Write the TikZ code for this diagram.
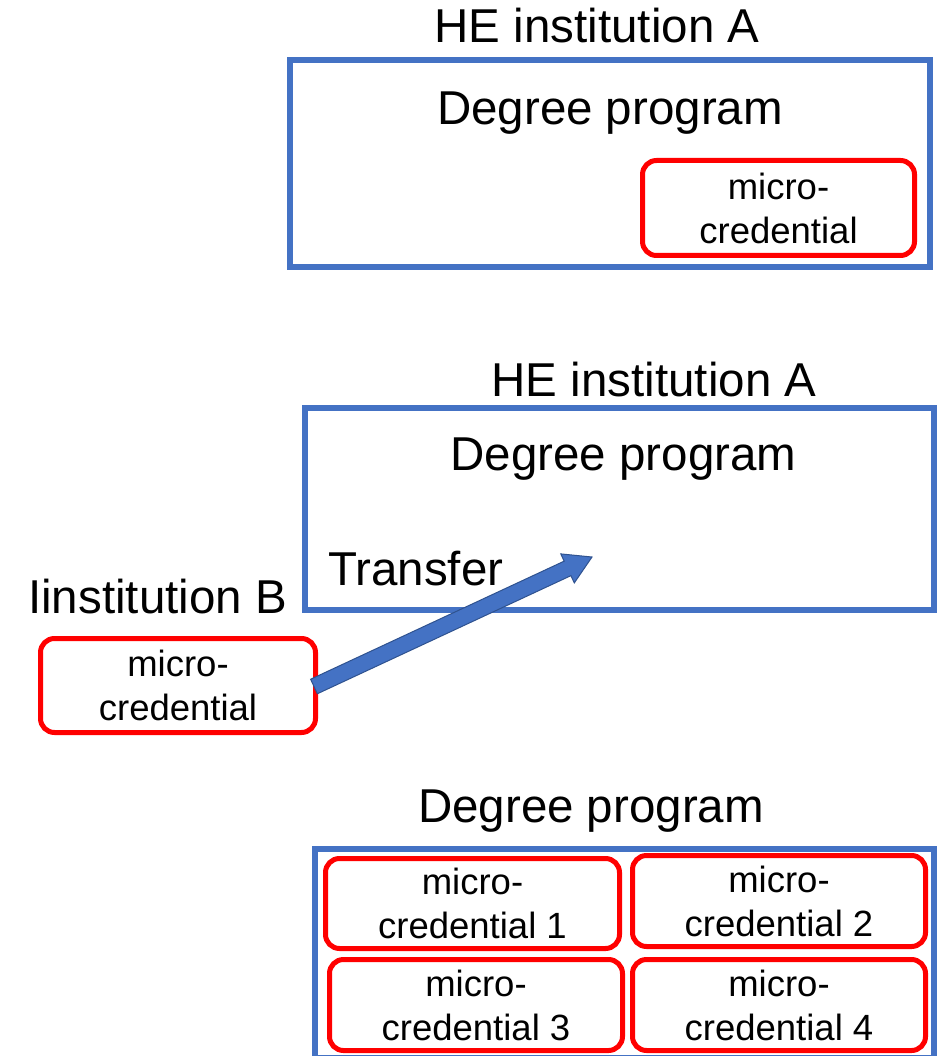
\documentclass[tikz,border=0pt]{standalone}
\usepackage{fontspec}
\setmainfont{Liberation Sans}
\usetikzlibrary{calc}
\definecolor{boxblue}{HTML}{4472C4}
\definecolor{arrowedge}{HTML}{2F528F}
\definecolor{mcred}{HTML}{FF0000}
\begin{document}
\begin{tikzpicture}[x=1pt,y=-1pt,
  big/.style={font=\fontsize{47.5}{57}\selectfont, inner sep=0pt},
  bluebox/.style={draw=boxblue, line width=6pt, rectangle, inner sep=0pt},
  mcbox/.style={draw=mcred, line width=5pt, rounded corners=14pt, rectangle, align=center, inner sep=0pt, font=\fontsize{36.5}{44}\selectfont},
]
\useasboundingbox (0,0) rectangle (940,1056);
% ---- top: micro-credential inside degree program
\node[bluebox, minimum width=640pt, minimum height=207pt] (progA) at (610,163.5) {};
\node[big, anchor=base] (headA) at (597,43) {HE institution A};
\node[big, anchor=base] (degA) at (610,125) {Degree program};
\node[mcbox, minimum width=272pt, minimum height=95pt] (mcA) at (778.5,208) {micro-\\credential};
% ---- middle: transfer
\node[bluebox, minimum width=629pt, minimum height=202pt] (progB) at (619.5,509) {};
\node[big, anchor=base] (headB) at (654,396) {HE institution A};
\node[big, anchor=base] (degB) at (623.5,470) {Degree program};
\node[big, anchor=base west] (transfer) at (328,585) {Transfer};
\node[big, anchor=base west] (instB) at (28,613) {Iinstitution B};
\node[mcbox, minimum width=275pt, minimum height=94pt] (mcB) at (178,685.5) {micro-\\credential};
% ---- bottom: degree program of micro-credentials
\node[big, anchor=base] (degC) at (591,822) {Degree program};
\node[bluebox, minimum width=619pt, minimum height=209pt] (progC) at (624.5,953.5) {};
\node[mcbox, minimum width=294pt, minimum height=90pt] (mc1) at (472.5,903.5) {micro-\\credential 1};
\node[mcbox, minimum width=293pt, minimum height=91pt] (mc2) at (779,901) {micro-\\credential 2};
\node[mcbox, minimum width=293pt, minimum height=91pt] (mc3) at (476,1005) {micro-\\credential 3};
\node[mcbox, minimum width=293pt, minimum height=91pt] (mc4) at (779,1005) {micro-\\credential 4};
% ---- transfer arrow
\coordinate (arrTail) at ($(mcB.east)+(-4,1)$);
\coordinate (arrTip) at (592,557);
\coordinate (arrNeck) at ($(arrTip)!27pt!(arrTail)$);
\filldraw[fill=boxblue, draw=arrowedge, line width=1pt, line join=miter]
  ($(arrTail)!8pt!90:(arrTip)$) -- ($(arrNeck)!8pt!90:(arrTip)$) -- ($(arrNeck)!16pt!90:(arrTip)$)
  -- (arrTip) -- ($(arrNeck)!16pt!-90:(arrTip)$) -- ($(arrNeck)!8pt!-90:(arrTip)$)
  -- ($(arrTail)!8pt!-90:(arrTip)$) -- cycle;
\end{tikzpicture}
\end{document}
